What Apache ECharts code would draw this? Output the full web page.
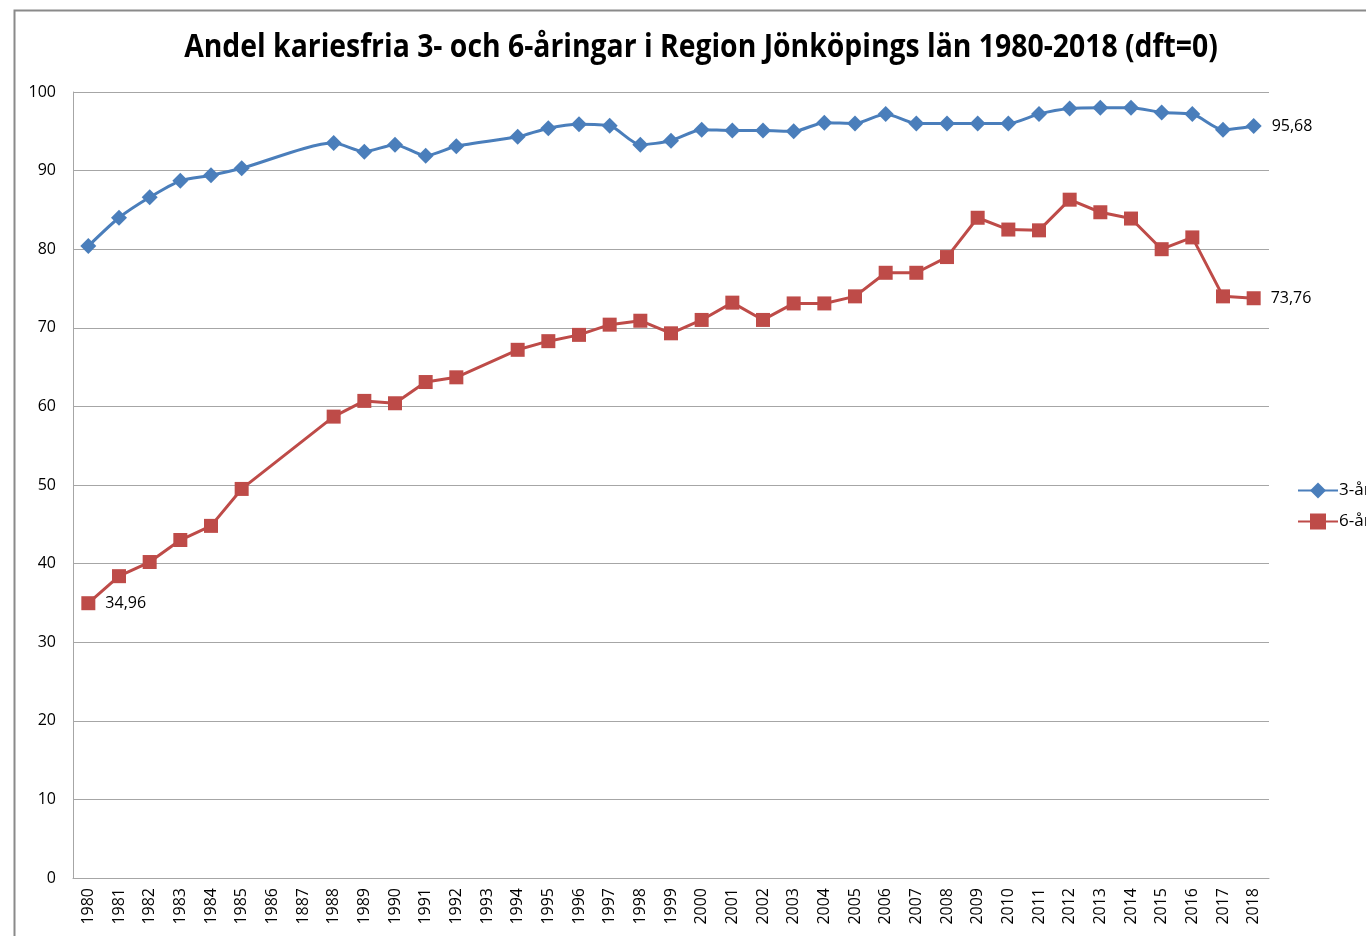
<!DOCTYPE html>
<html>
<head>
<meta charset="utf-8">
<title>Andel kariesfria</title>
<script src="https://cdn.jsdelivr.net/npm/echarts@6/dist/echarts.min.js"></script>
<style>
  html, body { margin: 0; padding: 0; background: #fff; }
  #main { width: 1366px; height: 936px; }
</style>
</head>
<body>
<div id="main"></div>
<script>
// årtal (1887 står så i originalet)
var years = ["1980","1981","1982","1983","1984","1985","1986","1887","1988","1989",
  "1990","1991","1992","1993","1994","1995","1996","1997","1998","1999",
  "2000","2001","2002","2003","2004","2005","2006","2007","2008","2009",
  "2010","2011","2012","2013","2014","2015","2016","2017","2018"];

// 3-åringar
var treAr = [80.4, 84.0, 86.6, 88.7, 89.4, 90.3, null, null, 93.5, 92.4,
  93.3, 91.9, 93.1, null, 94.3, 95.4, 95.9, 95.7, 93.3, 93.8,
  95.2, 95.1, 95.1, 95.0, 96.1, 96.0, 97.2, 96.0, 96.0, 96.0,
  96.0, 97.2, 97.9, 98.0, 98.0, 97.4, 97.2, 95.2, 95.68];

// 6-åringar
var sexAr = [34.96, 38.4, 40.2, 43.0, 44.8, 49.5, null, null, 58.7, 60.7,
  60.4, 63.1, 63.7, null, 67.2, 68.3, 69.1, 70.4, 70.9, 69.3,
  71.0, 73.2, 71.0, 73.1, 73.1, 74.0, 77.0, 77.0, 79.0, 84.0,
  82.5, 82.4, 86.3, 84.7, 83.9, 80.0, 81.5, 74.0, 73.76];

var yTicks = [0, 10, 20, 30, 40, 50, 60, 70, 80, 90, 100];

var titleText = "Andel kariesfria 3- och 6-åringar i Region Jönköpings län 1980-2018 (dft=0)";

var myChart = echarts.init(document.getElementById("main"));

// etikett bara på första/sista punkten
function endLabel(first, last) {
  return function (p) {
    if (first && p.dataIndex === 0) return String(p.value).replace(".", ",");
    if (last && p.dataIndex === years.length - 1) return String(p.value).replace(".", ",");
    return "";
  };
}

var option = {
  animation: false,
  backgroundColor: "#fff",
  textStyle: { fontFamily: "Open Sans, DejaVu Sans, sans-serif" },
  graphic: [
    {
      type: "polyline",
      shape: { points: [[14.5, 936], [14.5, 10.5], [1366, 10.5]] },
      style: { stroke: "#8a8a8a", lineWidth: 2, fill: null },
      silent: true
    },
    {
      // titeln, lite hoptryckt som Calibri
      type: "text",
      x: 701,
      y: 48,
      scaleX: 0.9,
      silent: true,
      style: {
        text: titleText,
        font: "bold 31.5px 'Open Sans', sans-serif",
        fill: "#000",
        textAlign: "center",
        textVerticalAlign: "middle"
      }
    }
  ],
  legend: {
    orient: "vertical",
    left: 1292,
    top: 477,
    itemGap: 14,
    itemWidth: 40,
    itemHeight: 20,
    textStyle: { fontSize: 17, color: "#000", padding: [0, 0, 0, -4] },
    data: ["3-åringar", "6-åringar"]
  },
  grid: {
    left: 73,
    right: 97,
    top: 92,
    bottom: 58,
    containLabel: false
  },
  xAxis: {
    type: "category",
    data: years,
    boundaryGap: true,
    axisLine: { lineStyle: { color: "#a6a6a6", width: 1 } },
    axisTick: { show: false },
    axisLabel: {
      rotate: 90,
      interval: 0,
      fontSize: 16,
      color: "#000",
      margin: 10
    }
  },
  yAxis: {
    type: "value",
    min: yTicks[0],
    max: yTicks[yTicks.length - 1],
    interval: 10,
    axisLine: { show: true, lineStyle: { color: "#a6a6a6" } },
    axisTick: { show: false },
    axisLabel: { fontSize: 16, color: "#000", margin: 17 },
    splitLine: { lineStyle: { color: "#a6a6a6", width: 1 } }
  },
  series: [
    {
      name: "3-åringar",
      type: "line",
      data: treAr,
      connectNulls: true,
      smooth: 0.25,
      symbol: "diamond",
      symbolSize: 16,
      color: "#4a7ebb",
      lineStyle: { width: 3, color: "#4a7ebb" },
      itemStyle: { color: "#4a7ebb" },
      label: {
        show: true,
        position: "right",
        distance: 10,
        fontSize: 16,
        color: "#000",
        formatter: endLabel(false, true)
      }
    },
    {
      name: "6-åringar",
      type: "line",
      data: sexAr,
      connectNulls: true,
      symbol: "rect",
      symbolSize: 14,
      color: "#be4b48",
      lineStyle: { width: 3, color: "#be4b48" },
      itemStyle: { color: "#be4b48" },
      label: {
        show: true,
        position: "right",
        distance: 10,
        fontSize: 16,
        color: "#000",
        formatter: endLabel(true, true)
      }
    }
  ]
};

myChart.setOption(option);
</script>
</body>
</html>
